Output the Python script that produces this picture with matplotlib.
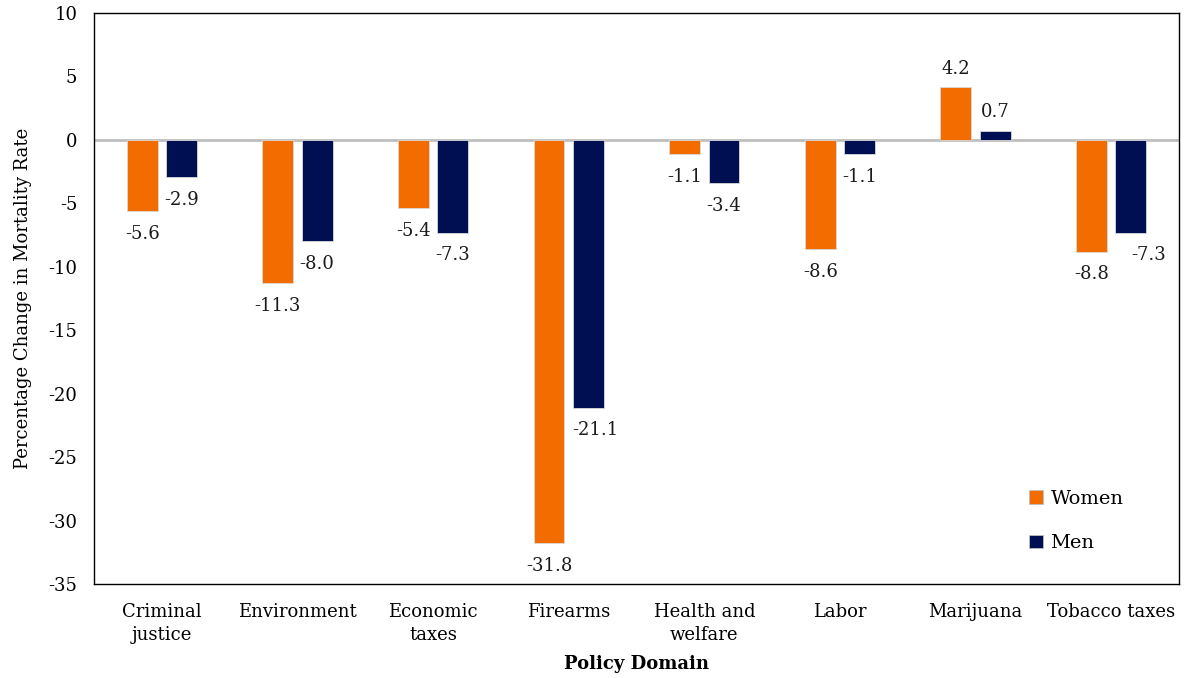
import matplotlib
matplotlib.use("Agg")
import matplotlib.pyplot as plt
import numpy as np

categories = ["Criminal\njustice", "Environment", "Economic\ntaxes", "Firearms",
              "Health and\nwelfare", "Labor", "Marijuana", "Tobacco taxes"]
women = [-5.6, -11.3, -5.4, -31.8, -1.1, -8.6, 4.2, -8.8]
men = [-2.9, -8.0, -7.3, -21.1, -3.4, -1.1, 0.7, -7.3]
yticks = [10, 5, 0, -5, -10, -15, -20, -25, -30, -35]

# label horizontal nudges (data units) for a couple of manually placed labels
men_label_dx = {3: 0.05, 7: 0.13}

orange = "#F36C00"
navy = "#000F52"

plt.rcParams['font.family'] = ['DejaVu Serif']
fig = plt.figure(figsize=(11.85, 6.78), dpi=100)
ax = fig.add_axes([94/1185, 1 - 584/678, (1179-94)/1185, (584-13)/678])

x = np.arange(len(categories))
bw = 0.228
off = 0.145
ax.bar(x - off, women, bw, color=orange, edgecolor="#D9D9D9", linewidth=0.6, label="Women", zorder=3)
ax.bar(x + off, men, bw, color=navy, edgecolor="#D9D9D9", linewidth=0.6, label="Men", zorder=3)
ax.axhline(0, color="#BFBFBF", linewidth=2, zorder=2)

fs = 13
for i, v in enumerate(women):
    dy = 1.4 if v > 0 else -1.8
    ax.text(x[i] - off, v + dy, f"{v:.1f}", ha="center", va="center", fontsize=fs, color="#1a1a1a", zorder=4)
for i, v in enumerate(men):
    dy = 1.5 if v > 0 else -1.8
    ax.text(x[i] + off + men_label_dx.get(i, 0), v + dy, f"{v:.1f}", ha="center", va="center",
            fontsize=fs, color="#1a1a1a", zorder=4)

ax.set_xlim(-0.5, len(categories) - 0.5)
ax.set_ylim(-35, 10)
ax.set_yticks(yticks)
ax.set_yticklabels([str(t) for t in yticks], fontsize=fs)
ax.set_xticks(x)
ax.set_xticklabels(categories, fontsize=fs, linespacing=1.35)
ax.tick_params(axis="y", length=0, pad=12)
ax.tick_params(axis="x", length=0, pad=14)
for s in ax.spines.values():
    s.set_color("black")
    s.set_linewidth(1.0)

ax.set_ylabel("Percentage Change in Mortality Rate", fontsize=fs, labelpad=12)
ax.set_xlabel("Policy Domain", fontsize=fs, fontweight="bold", labelpad=8)

leg = ax.legend(loc="lower right", bbox_to_anchor=(0.965, 0.025), frameon=False, fontsize=14,
                handlelength=0.7, handleheight=0.7, handletextpad=0.4, labelspacing=1.35)
for h in leg.legend_handles:
    h.set_edgecolor("#BFBFBF")

fig.savefig("out.png", dpi=100)
